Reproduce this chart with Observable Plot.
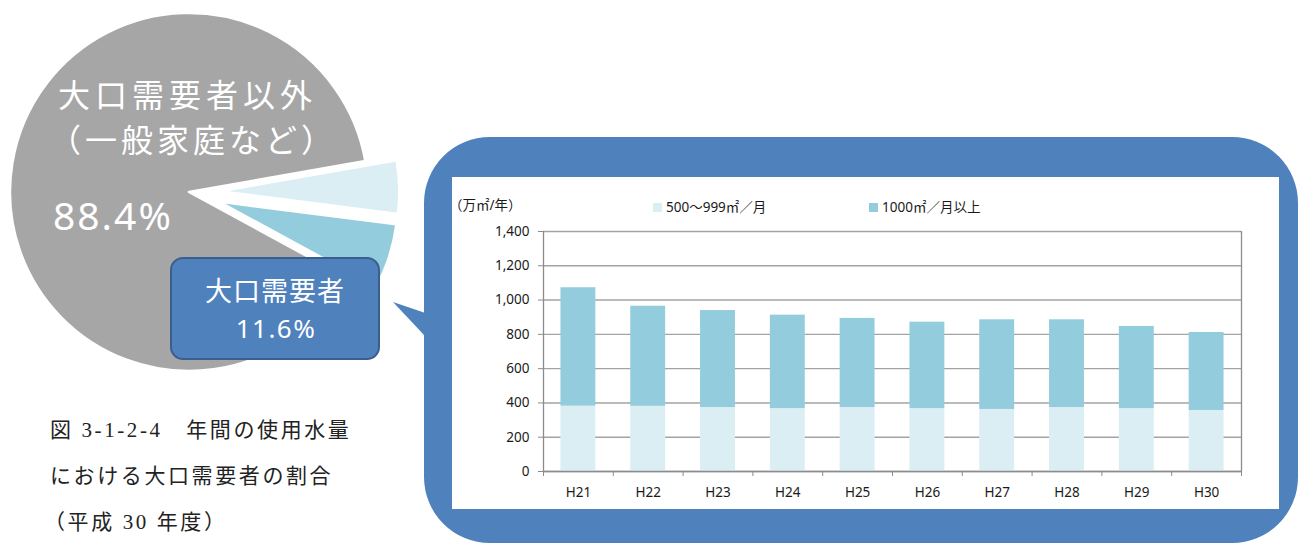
<!DOCTYPE html>
<html lang="ja">
<head>
<meta charset="utf-8">
<script src="https://cdn.jsdelivr.net/npm/d3@7"></script>
<script src="https://cdn.jsdelivr.net/npm/@observablehq/plot@0.6"></script>
<style>
html,body{margin:0;padding:0;background:#fff;}
#page{position:relative;width:1298px;height:544px;overflow:hidden;background:#fff;font-family:"Noto Sans","Noto Sans CJK JP",sans-serif;}
#pie{position:absolute;left:0;top:0;}
#bubble{position:absolute;left:424px;top:137px;width:874px;height:406px;border-radius:66px;background:#4F81BD;}
#tail{position:absolute;left:0;top:0;}
#panel{position:absolute;left:452px;top:177px;width:827px;height:332px;background:#fff;}
#bars{position:absolute;left:452px;top:177px;}
#box{position:absolute;left:170px;top:257px;width:206px;height:99px;border:2px solid #3A5F8F;border-radius:13px;background:#4F81BD;}
#labels{position:absolute;left:0;top:0;}
</style>
</head>
<body>
<div id="page">
  <div id="pie"></div>
  <div id="bubble"></div>
  <svg id="tail" width="1298" height="544"><polygon points="393,302 440,318 440,352" fill="#4F81BD"/></svg>
  <div id="panel"></div>
  <div id="bars"></div>
  <div id="box"></div>
  <svg id="labels" width="1298" height="544"></svg>
</div>
<script>
// ---------- data ----------
const years = ["H21", "H22", "H23", "H24", "H25", "H26", "H27", "H28", "H29", "H30"];
const seriesNames = ["500〜999㎡／月", "1000㎡／月以上"];
const small = [381, 380, 373, 367, 373, 367, 362, 373, 367, 356];   // 500〜999㎡／月
const large = [691, 584, 566, 545, 520, 504, 523, 512, 479, 455];   // 1000㎡／月以上
const yTicks = [0, 200, 400, 600, 800, 1000, 1200, 1400];
const unitLabel = "（万㎡/年）";

// pie slices as drawn in the picture (share of the circle, %)
const pieNames = ["500〜999㎡／月", "1000㎡／月以上", "大口需要者以外（一般家庭など）"];
const pieShares = [4.8, 5.9, 89.3];
const otherLabel = ["大口需要者以外", "（一般家庭など）", "88.4%"];
const largeLabel = ["大口需要者", "11.6%"];
const caption = ["図 3-1-2-4　年間の使用水量", "における大口需要者の割合", "（平成 30 年度）"];

// ---------- styles ----------
const seriesColors = ["#DAEEF3", "#93CDDD"];
const pieColors = ["#DAEEF3", "#93CDDD", "#A6A6A6"];
const pieExplode = [0.175, 0.175, 0];
const fontFam = '"Noto Sans","Noto Sans CJK JP",sans-serif';

// ---------- bar chart ----------
const rows = [];
seriesNames.forEach((s, k) => {
  const vals = k === 0 ? small : large;
  years.forEach((yr, i) => rows.push({year: yr, i, series: s, value: vals[i]}));
});

const bars = Plot.plot({
  width: 827, height: 332,
  marginLeft: 91, marginRight: 38, marginTop: 54, marginBottom: 38,
  style: {fontFamily: fontFam, fontSize: "13.5px", color: "#1a1a1a", background: "transparent", overflow: "visible"},
  x: {type: "linear", domain: [0, years.length]},
  y: {domain: [0, 1400]},
  color: {domain: seriesNames, range: seriesColors},
  marks: [
    Plot.gridY(yTicks, {stroke: "#a3a3a3", strokeOpacity: 1, strokeWidth: 1.4}),
    Plot.rectY(rows, {x1: d => d.i + 0.25, x2: d => d.i + 0.75, y: "value", fill: "series"}),
    Plot.ruleX([0, years.length], {stroke: "#8c8c8c", strokeWidth: 1.3}),
    Plot.ruleY([0], {stroke: "#8c8c8c", strokeWidth: 1.3}),
    Plot.axisY({ticks: yTicks, tickSize: 5, tickPadding: 9, tickFormat: d3.format(","), stroke: "#8c8c8c", label: null}),
    Plot.axisX({ticks: years.map((_, i) => i).concat(years.length), tickSize: 5, tickFormat: () => "", stroke: "#8c8c8c", label: null}),
    Plot.axisX({ticks: years.map((_, i) => i + 0.5), tickSize: 0, tickPadding: 16, tickFormat: v => years[Math.floor(v)], label: null})
  ]
});
document.getElementById("bars").append(bars);

// ---------- pie chart ----------
const pieCx = 189, pieCy = 192, pieR = 179;
const startRad = 80 * Math.PI / 180;

function pieMark(index, scales) {
  const cx = scales.x(0), cy = scales.y(0), r = scales.x(1) - scales.x(0);
  const arcs = d3.pie().sort(null).startAngle(startRad).endAngle(startRad + 2 * Math.PI)(pieShares);
  const arc = d3.arc().innerRadius(0).outerRadius(r);
  const g = d3.create("svg:g");
  arcs.forEach((a, i) => {
    const mid = (a.startAngle + a.endAngle) / 2, off = pieExplode[i] * r;
    g.append("path")
      .attr("d", arc(a))
      .attr("transform", `translate(${cx + Math.sin(mid) * off},${cy - Math.cos(mid) * off})`)
      .attr("fill", pieColors[i])
      .attr("stroke", "#fff").attr("stroke-width", 2.5).attr("stroke-linejoin", "round")
      .append("title").text(pieNames[i]);
  });
  return g.node();
}

const pie = Plot.plot({
  width: 420, height: 400, margin: 0,
  style: {background: "transparent", overflow: "visible"},
  x: {domain: [-1, 1], range: [pieCx - pieR, pieCx + pieR], axis: null},
  y: {domain: [-1, 1], range: [pieCy + pieR, pieCy - pieR], axis: null},
  marks: [
    Plot.dot([0], {x: 0, y: 0, r: 0}),
    pieMark
  ]
});
document.getElementById("pie").append(pie);

// ---------- text overlay ----------
const L = d3.select("#labels").attr("font-family", fontFam);
const wt = L.append("g").attr("fill", "#fff");
wt.append("text").attr("x", 58).attr("y", 107).attr("font-size", 32).attr("letter-spacing", 5).text(otherLabel[0]);
wt.append("text").attr("x", 49).attr("y", 152).attr("font-size", 32).attr("letter-spacing", 4).text(otherLabel[1]);
wt.append("text").attr("x", 53).attr("y", 230).attr("font-size", 39).attr("letter-spacing", 2).text(otherLabel[2]);
wt.append("text").attr("x", 275).attr("y", 301).attr("font-size", 27).attr("letter-spacing", 1).attr("text-anchor", "middle").text(largeLabel[0]);
wt.append("text").attr("x", 276).attr("y", 338).attr("font-size", 26).attr("letter-spacing", 1.5).attr("text-anchor", "middle").text(largeLabel[1]);

const cap = L.append("g").attr("fill", "#222").attr("font-size", 21)
  .attr("font-family", '"Liberation Serif","Noto Sans CJK JP",serif');
const capX = [50, 50, 44], capY = [437, 483, 529];
caption.forEach((t, i) => cap.append("text").attr("x", capX[i]).attr("y", capY[i]).attr("letter-spacing", 2.6).text(t));

// unit label + legend
L.append("text").attr("x", 449).attr("y", 210).attr("font-size", 13.5).attr("fill", "#1a1a1a").text(unitLabel);
const legX = [653, 869];
seriesNames.forEach((s, k) => {
  L.append("rect").attr("x", legX[k]).attr("y", 203).attr("width", 9).attr("height", 9).attr("fill", seriesColors[k]);
  L.append("text").attr("x", legX[k] + 13).attr("y", 212).attr("font-size", 13.5).attr("fill", "#1a1a1a").text(s);
});
</script>
</body>
</html>
